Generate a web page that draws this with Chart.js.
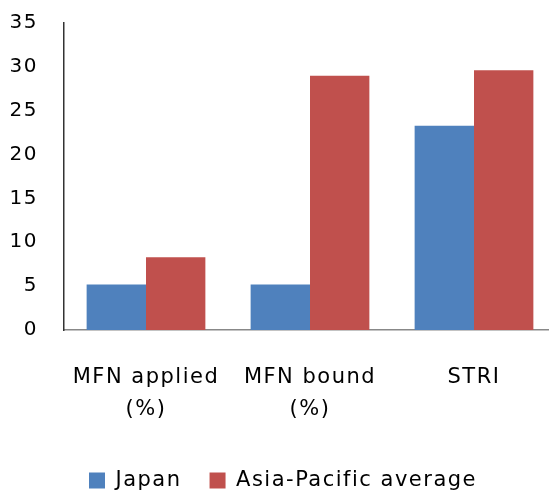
<!DOCTYPE html>
<html lang="en">
<head>
  <meta charset="UTF-8">
  <title>Japan vs Asia-Pacific</title>
  <script src="https://cdn.jsdelivr.net/npm/chart.js"></script>
  <style>
    html, body {
      margin: 0;
      background: white;
      overflow: hidden;
    }
    .wrap {
      width: 549px;
      height: 495px;
      overflow: hidden;
    }
    .inner {
      width: 556px;
      height: 495px;
    }
  </style>
</head>
<body>
  <div class="wrap">
    <div class="inner">
      <canvas id="barChart"></canvas>
    </div>
  </div>

  <script>
    // Data
    const categories = [['MFN applied', '(%)'], ['MFN bound', '(%)'], 'STRI'];
    const japan = [5.2, 5.2, 23.3];
    const asiaPacific = [8.3, 29.0, 29.6];
    const yTicks = [0, 5, 10, 15, 20, 25, 30, 35];

    const fontFamily = "'DejaVu Sans', sans-serif";

    // the original font is wider spaced, so open up the letters a bit
    const letterSpacing = {
      id: 'letterSpacing',
      beforeUpdate(chart) {
        chart.ctx.letterSpacing = '1.5px';
      }
    };

    new Chart(document.getElementById('barChart'), {
      type: 'bar',
      plugins: [letterSpacing],
      data: {
        labels: categories,
        datasets: [{
          label: 'Japan',
          data: japan,
          backgroundColor: '#4F81BD',
          borderWidth: 0
        }, {
          label: 'Asia-Pacific average',
          data: asiaPacific,
          backgroundColor: '#C0504D',
          borderWidth: 0
        }]
      },
      options: {
        responsive: true,
        maintainAspectRatio: false,
        animation: false,
        categoryPercentage: 0.724,
        barPercentage: 1.0,
        layout: {
          padding: { left: 10, right: 0, top: 23, bottom: -6 }
        },
        plugins: {
          tooltip: { enabled: false },
          legend: {
            position: 'bottom',
            labels: {
              color: '#000',
              font: { family: fontFamily, size: 21 },
              boxWidth: 16,
              boxHeight: 16,
              padding: 28
            }
          }
        },
        scales: {
          x: {
            afterFit: axis => {
              axis.height -= 15;
            },
            grid: { display: false, drawTicks: false },
            border: { color: '#888', width: 1.5 },
            ticks: {
              color: '#000',
              font: { family: fontFamily, size: 21, lineHeight: 1.5 },
              maxRotation: 0,
              padding: 32
            }
          },
          y: {
            min: 0,
            max: 35,
            afterBuildTicks: axis => {
              axis.ticks = yTicks.map(v => ({ value: v }));
            },
            afterFit: axis => {
              axis.width = 54;
              axis.paddingTop = 0;
            },
            grid: { display: false, drawTicks: false },
            border: { color: '#333', width: 1.5 },
            ticks: {
              color: '#000',
              font: { family: fontFamily, size: 20 },
              padding: 26
            }
          }
        }
      }
    });
  </script>
</body>
</html>
